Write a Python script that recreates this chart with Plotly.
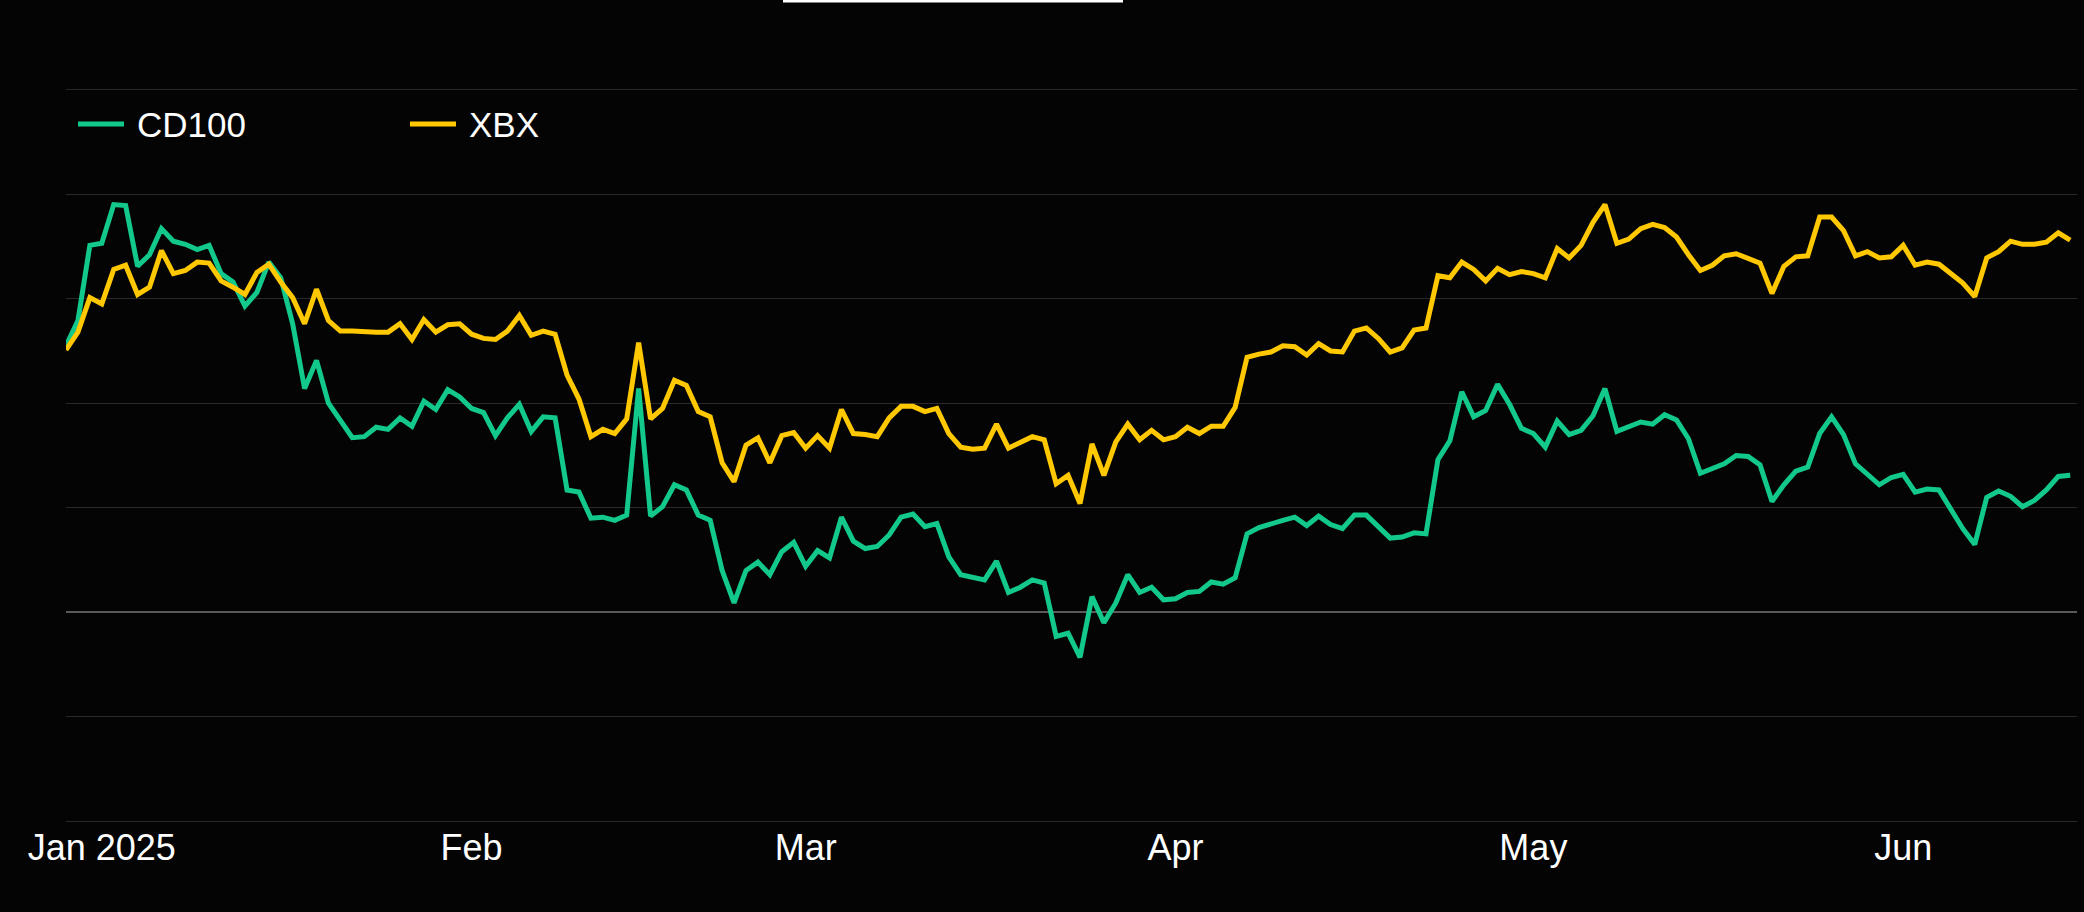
import pandas as pd
import plotly.graph_objects as go

# daily index values, both series start on the same day
start_date = "2024-12-29"

cd100 = [25.5, 27.9, 35.1, 35.3, 39.0, 38.9, 33.1, 34.2, 36.7, 35.5,
         35.2, 34.7, 35.1, 32.4, 31.6, 29.3, 30.6, 33.5, 32.0, 27.6,
         21.4, 24.1, 20.0, 18.4, 16.7, 16.8, 17.7, 17.5, 18.6, 17.8,
         20.2, 19.4, 21.3, 20.6, 19.5, 19.1, 16.9, 18.6, 19.9, 17.3,
         18.7, 18.6, 11.7, 11.5, 9.0, 9.1, 8.8, 9.3, 21.4, 9.2,
         10.1, 12.2, 11.7, 9.3, 8.8, 4.0, 0.9, 4.0, 4.8, 3.6,
         5.8, 6.7, 4.4, 5.9, 5.2, 9.1, 6.8, 6.1, 6.3, 7.4,
         9.1, 9.4, 8.2, 8.5, 5.3, 3.6, 3.3, 3.1, 4.9, 1.9,
         2.4, 3.1, 2.8, -2.3, -2.0, -4.3, 1.5, -1.0, 0.9, 3.6,
         1.9, 2.4, 1.2, 1.3, 1.9, 2.0, 2.9, 2.7, 3.3, 7.5,
         8.1, 8.5, 8.8, 9.1, 8.3, 9.2, 8.4, 8.0, 9.3, 9.3,
         8.2, 7.1, 7.2, 7.6, 7.5, 14.6, 16.4, 21.1, 18.7, 19.3,
         21.8, 19.9, 17.6, 17.1, 15.8, 18.3, 17.0, 17.4, 18.8, 21.4,
         17.3, 17.7, 18.2, 18.0, 18.9, 18.4, 16.6, 13.3, 13.7, 14.2,
         15.0, 14.9, 14.1, 10.6, 12.2, 13.5, 13.9, 17.1, 18.7, 17.0,
         14.2, 13.2, 12.2, 12.9, 13.2, 11.5, 11.8, 11.7, 9.8, 8.0,
         6.5, 11.0, 11.6, 11.1, 10.1, 10.7, 11.7, 13.0, 13.1]

xbx = [25.1, 26.8, 30.1, 29.5, 32.8, 33.2, 30.4, 31.1, 34.6, 32.4,
       32.7, 33.5, 33.4, 31.7, 31.1, 30.4, 32.5, 33.3, 31.6, 30.1,
       27.6, 30.9, 27.9, 26.9, 26.9, 26.8, 26.8, 26.8, 27.6, 26.1,
       28.0, 26.8, 27.5, 27.6, 26.6, 26.2, 26.1, 26.9, 28.4, 26.5,
       26.9, 26.6, 22.7, 20.4, 16.8, 17.5, 17.1, 18.5, 25.8, 18.5,
       19.5, 22.2, 21.7, 19.2, 18.7, 14.3, 12.5, 16.0, 16.7, 14.3,
       16.9, 17.2, 15.7, 16.9, 15.7, 19.4, 17.1, 17.0, 16.8, 18.6,
       19.7, 19.7, 19.2, 19.5, 17.1, 15.8, 15.6, 15.7, 18.0, 15.7,
       16.2, 16.8, 16.5, 12.3, 13.1, 10.4, 16.1, 13.1, 16.3, 18.0,
       16.5, 17.4, 16.5, 16.8, 17.7, 17.1, 17.8, 17.8, 19.6, 24.4,
       24.7, 24.9, 25.5, 25.4, 24.6, 25.7, 25.0, 24.9, 26.9, 27.2,
       26.2, 24.9, 25.3, 27.0, 27.2, 32.2, 32.0, 33.5, 32.8, 31.7,
       32.9, 32.3, 32.6, 32.4, 32.0, 34.8, 33.9, 35.1, 37.3, 39.0,
       35.3, 35.7, 36.7, 37.1, 36.8, 35.9, 34.2, 32.7, 33.2, 34.1,
       34.3, 33.9, 33.4, 30.5, 33.1, 34.0, 34.1, 37.8, 37.8, 36.5,
       34.1, 34.5, 33.9, 34.0, 35.1, 33.2, 33.5, 33.3, 32.4, 31.5,
       30.2, 33.9, 34.5, 35.5, 35.2, 35.2, 35.4, 36.3, 35.6]

series_names = ["CD100", "XBX"]
series_colors = ["#12C98B", "#FFC800"]

month_ticks = ["2025-01-01", "2025-02-01", "2025-03-01", "2025-04-01",
               "2025-05-01", "2025-06-01"]
month_labels = ["Jan 2025", "Feb", "Mar", "Apr", "May", "Jun"]

dates = pd.date_range(start_date, periods=len(cd100), freq="D")

FONT = "Helvetica Neue, Helvetica, Arial, Liberation Sans, sans-serif"
BG = "#040405"

# plot area in pixels (used to place the hand drawn legend)
W, H = 2084, 912
PL, PR, PT, PB = 66, 2077, 88, 823


def fx(p):
    return (p - PL) / (PR - PL)


def fy(p):
    return (PB - p) / (PB - PT)


fig = go.Figure()
for name, vals, col in zip(series_names, [cd100, xbx], series_colors):
    fig.add_trace(go.Scatter(x=dates, y=vals, name=name, mode="lines",
                             line=dict(color=col, width=5),
                             showlegend=False))

# legend drawn by hand: a longer swatch than plotly's own
shapes = []
annos = []
for name, col, x0 in zip(series_names, series_colors, [78, 410]):
    shapes.append(dict(type="line", xref="paper", yref="paper",
                       x0=fx(x0), x1=fx(x0 + 46), y0=fy(124), y1=fy(124),
                       line=dict(color=col, width=5)))
    annos.append(dict(text=name, xref="paper", yref="paper",
                      x=fx(x0 + 57), y=fy(124), xanchor="left",
                      yanchor="middle", showarrow=False,
                      font=dict(color="white", size=35, family=FONT)))

# white bar cut off at the top edge
shapes.append(dict(type="rect", xref="paper", yref="paper",
                   x0=fx(783), x1=fx(1123), y0=fy(2.5), y1=fy(-6),
                   fillcolor="white", line=dict(width=0)))

fig.update_layout(
    width=W, height=H,
    margin=dict(l=PL, r=W - PR, t=PT, b=H - PB, pad=0),
    paper_bgcolor=BG, plot_bgcolor=BG,
    shapes=shapes, annotations=annos,
    hovermode=False,
    xaxis=dict(type="date",
               range=["2024-12-29", "2025-06-15 13:40"],
               tickvals=month_ticks, ticktext=month_labels,
               showgrid=False, zeroline=False, showline=False, ticks="",
               tickfont=dict(color="white", size=36, family=FONT)),
    yaxis=dict(range=[-20.15, 50.15], tick0=0, dtick=10,
               showticklabels=False, ticks="",
               gridcolor="#29292b", gridwidth=1,
               zeroline=True, zerolinecolor="#5a5a5c", zerolinewidth=1.5),
)

# the page body keeps a default margin; drop it so the chart fills the window
fig.write_html("out.html", config={"displayModeBar": False},
               post_script="document.body.style.margin='0';"
                           "document.body.style.background='%s';" % BG)
